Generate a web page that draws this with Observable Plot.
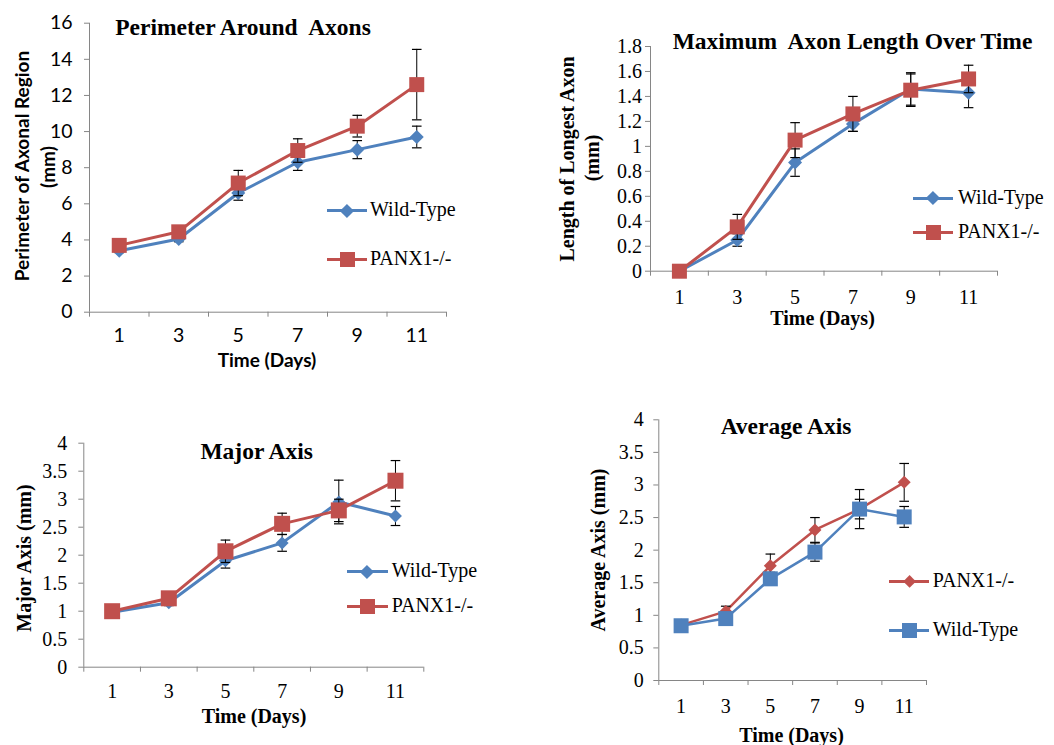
<!DOCTYPE html>
<html>
<head>
<meta charset="utf-8">
<script src="https://cdn.jsdelivr.net/npm/d3@7"></script>
<script src="https://cdn.jsdelivr.net/npm/@observablehq/plot@0.6"></script>
<style>
  html, body { margin: 0; padding: 0; background: #fff; }
  #root { position: relative; width: 1054px; height: 745px; overflow: hidden; background: #fff; }
  #root svg { position: absolute; }
  .lbl { position: absolute; white-space: pre; color: #000; line-height: 1; }
  .leg { position: absolute; display: flex; align-items: center; white-space: pre; color: #000; }
</style>
</head>
<body>
<div id="root"></div>
<script>
// ---------------- data ----------------
const days = [1, 3, 5, 7, 9, 11];
const dayBounds = [0, 2, 4, 6, 8, 10, 12];

// Perimeter Around Axons (mm)
const perimTicks = [0, 2, 4, 6, 8, 10, 12, 14, 16];
const perimWT    = [3.4, 4.05, 6.6, 8.3, 9.0, 9.7];
const perimWTErr = [0.1, 0.15, 0.4, 0.45, 0.5, 0.6];
const perimPX    = [3.7, 4.45, 7.15, 8.95, 10.3, 12.6];
const perimPXErr = [0.15, 0.2, 0.7, 0.65, 0.6, 1.95];

// Maximum Axon Length Over Time (mm)
const lenTicks = [0, 0.2, 0.4, 0.6, 0.8, 1, 1.2, 1.4, 1.6, 1.8];
const lenWT    = [0, 0.25, 0.87, 1.18, 1.46, 1.43];
const lenWTErr = [0, 0.05, 0.11, 0.06, 0.13, 0.12];
const lenPX    = [0, 0.355, 1.05, 1.26, 1.45, 1.54];
const lenPXErr = [0, 0.1, 0.14, 0.14, 0.13, 0.11];

// Major Axis (mm)
const majTicks = [0, 0.5, 1, 1.5, 2, 2.5, 3, 3.5, 4];
const majWT    = [0.98, 1.15, 1.9, 2.22, 2.95, 2.7];
const majWTErr = [0.03, 0.05, 0.13, 0.15, 0.39, 0.17];
const majPX    = [1.0, 1.23, 2.07, 2.56, 2.8, 3.33];
const majPXErr = [0.05, 0.06, 0.2, 0.19, 0.2, 0.36];

// Average Axis (mm)
const avgTicks = [0, 0.5, 1, 1.5, 2, 2.5, 3, 3.5, 4];
const avgPX    = [0.85, 1.06, 1.76, 2.31, 2.63, 3.04];
const avgPXErr = [0.03, 0.08, 0.18, 0.19, 0.3, 0.29];
const avgWT    = [0.84, 0.95, 1.56, 1.97, 2.63, 2.51];
const avgWTErr = [0.03, 0.05, 0.1, 0.14, 0.15, 0.16];

const seriesNames = { wt: "Wild-Type", px: "PANX1-/-" };
const titles = ["Perimeter Around  Axons", "Maximum  Axon Length Over Time", "Major Axis", "Average Axis"];
const xTitle = "Time (Days)";

// ---------------- style ----------------
const BLUE = "#4F81BD", RED = "#C0504D", AXIS = "#868686";
const SERIF = "'Liberation Serif', 'Times New Roman', serif";
const SANS = "Lato, 'Open Sans', sans-serif";

const sym = {
  square: { draw(c, s) { const r = Math.sqrt(s / Math.PI); c.rect(-r, -r, 2 * r, 2 * r); } },
  diamond: { draw(c, s) { const r = Math.sqrt(s / Math.PI); c.moveTo(0, -r); c.lineTo(r, 0); c.lineTo(0, r); c.lineTo(-r, 0); c.closePath(); } },
  cap: { draw(c, s) { const r = Math.sqrt(s / Math.PI); c.moveTo(-r, 0); c.lineTo(r, 0); } }
};

function rows(vals, errs) {
  return days.map((d, i) => ({ day: d, v: vals[i], lo: vals[i] - errs[i], hi: vals[i] + errs[i] }));
}

function seriesMarks(data, color, shape, r, lw) {
  return [
    Plot.line(data, { x: "day", y: "v", stroke: color, strokeWidth: lw }),
    Plot.ruleX(data, { x: "day", y1: "lo", y2: "hi", stroke: "#000", strokeWidth: 1 }),
    Plot.dot(data, { x: "day", y: "lo", symbol: sym.cap, r: 4.8, stroke: "#000", strokeWidth: 1.2 }),
    Plot.dot(data, { x: "day", y: "hi", symbol: sym.cap, r: 4.8, stroke: "#000", strokeWidth: 1.2 }),
    Plot.dot(data, { x: "day", y: "v", symbol: sym[shape], r, fill: color })
  ];
}

const root = document.getElementById("root");

function panel(cfg) {
  const svg = Plot.plot({
    width: cfg.w, height: cfg.h,
    marginLeft: cfg.mL, marginRight: cfg.mR, marginTop: cfg.mT, marginBottom: cfg.mB,
    x: { type: "linear", domain: [0, 12] },
    y: { type: "linear", domain: [0, cfg.yTicks[cfg.yTicks.length - 1]] },
    style: { fontFamily: cfg.font, fontSize: cfg.fs + "px", color: "#000", background: "transparent", overflow: "visible" },
    marks: [
      Plot.axisY({ ticks: cfg.yTicks, tickSize: 5, tickPadding: cfg.yPad, stroke: AXIS, fill: "#000", tickFormat: d => String(d), label: null }),
      Plot.axisX({ ticks: dayBounds, tickSize: 5, tickFormat: () => "", stroke: AXIS, label: null }),
      Plot.axisX({ ticks: days, tickSize: 0, tickPadding: cfg.xPad, fill: "#000", tickFormat: d => String(d), label: null }),
      Plot.ruleX([0], { stroke: AXIS }),
      Plot.ruleY([0], { stroke: AXIS }),
      ...cfg.series.flatMap(s => seriesMarks(rows(s.vals, s.errs), s.color, s.shape, s.r, cfg.lw))
    ]
  });
  svg.style.left = cfg.left + "px";
  svg.style.top = cfg.top + "px";
  root.appendChild(svg);
}

function label(text, cx, cy, font, size, weight, rotate) {
  const d = document.createElement("div");
  d.className = "lbl";
  d.textContent = text;
  d.style.left = cx + "px";
  d.style.top = cy + "px";
  d.style.fontFamily = font;
  d.style.fontSize = size + "px";
  d.style.fontWeight = weight;
  d.style.transform = "translate(-50%,-50%)" + (rotate ? " rotate(-90deg)" : "");
  root.appendChild(d);
}

function legendItem(x0, x1, y, textX, color, shape, half, lw, text) {
  const line = document.createElement("div");
  line.style.cssText = `position:absolute;left:${x0}px;top:${y - lw / 2}px;width:${x1 - x0}px;height:${lw}px;background:${color}`;
  root.appendChild(line);
  const m = document.createElement("div");
  const cx = (x0 + x1) / 2;
  if (shape === "square") {
    m.style.cssText = `position:absolute;left:${cx - half}px;top:${y - half}px;width:${2 * half}px;height:${2 * half}px;background:${color}`;
  } else {
    const s = half * Math.SQRT2;
    m.style.cssText = `position:absolute;left:${cx - s / 2}px;top:${y - s / 2}px;width:${s}px;height:${s}px;background:${color};transform:rotate(45deg)`;
  }
  root.appendChild(m);
  const t = document.createElement("div");
  t.className = "leg";
  t.textContent = text;
  t.style.cssText += `left:${textX}px;top:${y - 16}px;height:30px;font-family:${SERIF};font-size:20px;`;
  root.appendChild(t);
}

// ---------------- panel 1 ----------------
panel({
  left: 0, top: 0, w: 460, h: 345, mL: 89, mR: 14, mT: 22.7, mB: 33.3,
  yTicks: perimTicks, yPad: 12, xPad: 16, font: SANS, fs: 19.5, lw: 3,
  series: [
    { vals: perimWT, errs: perimWTErr, color: BLUE, shape: "diamond", r: 7 },
    { vals: perimPX, errs: perimPXErr, color: RED, shape: "square", r: 7.5 }
  ]
});
label(titles[0], 243, 27.7, SERIF, 23.5, "bold");
label("Perimeter of Axonal Region", 21, 166, SANS, 19, "bold", true);
label("(mm)", 46.5, 166.7, SANS, 19, "bold", true);
label(xTitle, 267, 358.5, SANS, 19, "bold");
legendItem(327, 367, 210.7, 370, BLUE, "diamond", 7, 3, seriesNames.wt);
legendItem(327, 367, 259, 370, RED, "square", 7.5, 3, seriesNames.px);

// ---------------- panel 2 ----------------
panel({
  left: 530, top: 0, w: 524, h: 345, mL: 120, mR: 57, mT: 46, mB: 74.3,
  yTicks: lenTicks, yPad: 3.5, xPad: 18.5, font: SERIF, fs: 20, lw: 3,
  series: [
    { vals: lenWT, errs: lenWTErr, color: BLUE, shape: "diamond", r: 7 },
    { vals: lenPX, errs: lenPXErr, color: RED, shape: "square", r: 7.5 }
  ]
});
label(titles[1], 852.5, 41.7, SERIF, 23.5, "bold");
label("Length of Longest Axon", 567, 159, SERIF, 20, "bold", true);
label("(mm)", 592, 158.3, SERIF, 20, "bold", true);
label(xTitle, 822.5, 318, SERIF, 20, "bold");
legendItem(913, 953, 198, 958, BLUE, "diamond", 7, 3, seriesNames.wt);
legendItem(913, 953, 232, 958, RED, "square", 7.5, 3, seriesNames.px);

// ---------------- panel 3 ----------------
panel({
  left: 0, top: 400, w: 520, h: 345, mL: 83.3, mR: 96.7, mT: 42.7, mB: 78.3,
  yTicks: majTicks, yPad: 11.6, xPad: 16.7, font: SERIF, fs: 20, lw: 3,
  series: [
    { vals: majWT, errs: majWTErr, color: BLUE, shape: "diamond", r: 6.5 },
    { vals: majPX, errs: majPXErr, color: RED, shape: "square", r: 8 }
  ]
});
label(titles[2], 256.7, 451.7, SERIF, 23.5, "bold");
label("Major Axis (mm)", 24, 557.5, SERIF, 20, "bold", true);
label(xTitle, 254, 716, SERIF, 20, "bold");
legendItem(346.7, 388, 571.7, 391.7, BLUE, "diamond", 7, 3, seriesNames.wt);
legendItem(346.7, 388, 606.7, 391.7, RED, "square", 7.5, 3, seriesNames.px);

// ---------------- panel 4 ----------------
panel({
  left: 520, top: 400, w: 534, h: 345, mL: 138.3, mR: 128, mT: 19.3, mB: 65,
  yTicks: avgTicks, yPad: 10, xPad: 18, font: SERIF, fs: 20, lw: 2.5,
  series: [
    { vals: avgPX, errs: avgPXErr, color: RED, shape: "diamond", r: 6.5 },
    { vals: avgWT, errs: avgWTErr, color: BLUE, shape: "square", r: 7.5 }
  ]
});
label(titles[3], 786, 426.7, SERIF, 23.5, "bold");
label("Average Axis (mm)", 598, 550, SERIF, 20, "bold", true);
label(xTitle, 791.5, 735, SERIF, 20, "bold");
legendItem(889.3, 929.3, 581.7, 932.7, RED, "diamond", 6.5, 3, seriesNames.px);
legendItem(889.3, 929.3, 630.7, 932.7, BLUE, "square", 7.5, 3, seriesNames.wt);
</script>
</body>
</html>
